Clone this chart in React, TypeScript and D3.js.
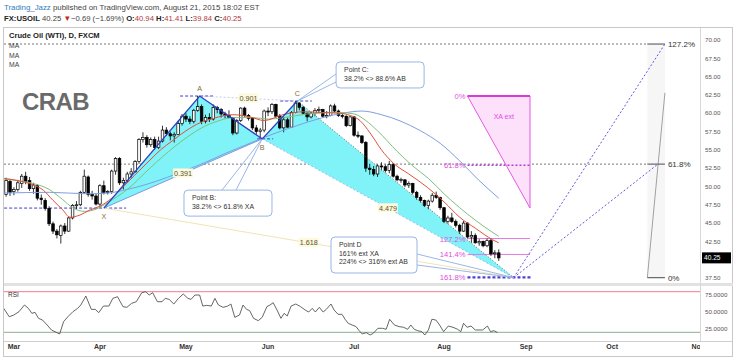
import React from "react";
import * as d3 from "d3";

// ---------- DATA ----------
const firstBar = -1; // Feb 26, 2015; bar 0 = Feb 27, bar 1 = Mar 2 ... bar 125 = Aug 21
const opens = [48.9,50.7,49.3,49.6,50.4,51.4,50.8,49.7,50.1,48.4,48.1,47.0,44.9,43.9,43.3,44.6,43.9,45.7,47.4,47.5,49.2,51.3,48.9,48.7,47.6,50.1,49.2,49.3,52.1,53.8,50.5,50.8,51.7,52.0,53.4,56.4,56.7,55.7,56.4,55.3,56.2,57.7,57.2,56.9,57.1,58.6,59.6,59.2,58.9,60.4,60.9,58.9,59.4,59.2,60.8,60.5,59.9,59.7,59.4,57.3,59.0,60.7,59.7,59.3,58.0,57.5,57.7,60.3,60.2,61.2,59.6,58.0,59.1,58.1,60.1,61.4,60.8,60.0,59.5,60.0,60.4,60.5,59.6,59.7,61.0,60.3,59.7,59.6,58.3,59.5,57.0,56.9,56.0,52.5,52.3,51.7,52.8,52.7,52.2,53.0,51.4,50.9,50.9,50.2,50.4,49.2,48.5,48.1,47.4,48.0,48.8,48.5,47.1,45.2,45.7,45.2,44.7,43.9,45.0,43.1,43.3,42.3,42.5,41.9,42.6,40.8,40.94];
const highs = [51.2,51.0,49.9,50.9,51.7,52.0,51.3,50.5,50.3,48.9,48.4,47.3,45.2,44.2,44.8,45.0,45.9,47.6,48.0,49.4,52.3,51.5,49.4,49.0,50.3,50.8,49.5,52.3,54.0,54.0,51.2,52.0,52.5,53.6,56.6,57.4,57.0,56.7,56.8,56.8,58.3,58.1,57.5,57.4,59.0,59.9,60.0,59.6,60.6,62.35,61.2,59.8,60.0,61.2,61.0,60.7,60.2,60.4,59.5,59.2,60.8,60.9,59.9,59.4,58.4,58.0,60.5,60.8,61.4,61.3,59.9,59.5,59.4,60.3,61.67,61.5,61.0,60.1,60.2,60.7,60.9,60.6,60.3,61.2,61.3,60.5,60.0,59.7,59.6,59.6,57.5,57.0,56.2,53.1,52.8,53.0,53.3,53.0,53.5,53.2,51.6,51.2,51.0,50.7,50.5,49.4,48.8,48.2,48.2,49.1,49.3,48.6,47.2,46.0,46.4,45.5,44.9,45.3,45.1,43.9,43.6,42.8,42.6,42.9,42.9,41.3,41.41];
const lows = [48.6,48.7,48.8,49.3,49.8,50.3,49.4,49.0,48.1,47.5,46.7,44.6,43.5,42.9,42.2,43.5,43.8,45.5,46.9,47.3,49.0,48.6,48.2,47.4,47.05,48.9,48.9,49.0,51.6,50.2,49.6,50.5,51.2,51.9,53.1,56.0,55.3,55.4,55.0,55.1,56.0,56.9,56.3,56.0,57.0,58.3,58.8,58.5,58.6,60.2,58.5,58.6,58.8,59.0,60.0,59.4,59.3,59.3,57.0,57.1,58.8,59.5,59.0,57.7,57.1,56.5,57.4,59.6,59.9,59.4,57.8,57.4,58.0,58.0,60.0,60.4,59.8,58.9,59.3,59.6,60.0,59.4,59.3,59.6,60.0,59.5,59.3,58.1,58.2,56.8,56.6,55.8,52.0,51.6,51.4,51.3,52.2,51.9,51.8,51.2,50.7,50.5,49.9,49.8,48.9,48.2,47.8,47.2,46.9,47.8,48.3,46.8,45.0,44.9,45.0,44.4,43.5,43.8,42.9,42.3,42.2,41.9,41.7,41.7,40.5,40.2,39.84];
const closes = [50.8,49.2,49.6,50.5,51.4,50.7,49.7,50.2,48.4,48.2,47.0,44.9,43.9,43.4,44.6,43.9,45.7,47.4,47.5,49.2,51.4,48.9,48.7,47.6,50.1,49.2,49.3,52.1,53.8,50.5,50.8,51.7,52.0,53.4,56.4,56.7,55.7,56.4,55.3,56.2,57.7,57.2,56.9,57.1,58.6,59.6,59.2,58.9,60.4,60.9,58.9,59.4,59.2,60.8,60.5,59.9,59.7,59.4,57.3,59.0,60.7,59.7,59.3,58.0,57.5,57.7,60.3,60.2,61.2,59.6,58.0,59.1,58.1,60.1,61.4,60.8,60.0,59.5,60.0,60.4,60.5,59.6,59.7,61.0,60.3,59.7,59.6,58.3,59.5,57.0,56.9,56.0,52.5,52.3,51.7,52.8,52.7,52.2,53.0,51.4,50.9,50.95,50.2,50.4,49.2,48.5,48.1,47.4,48.0,48.8,48.5,47.1,45.2,45.7,45.2,44.7,43.9,45.0,43.1,43.3,42.3,42.5,41.9,42.6,40.8,40.94,40.25];

const monthLabels = ["Mar", "Apr", "May", "Jun", "Jul", "Aug", "Sep", "Oct", "Nov"];
const monthBars = [1, 23, 45, 66, 88, 111, 132, 154, 176];
const priceTicks = [37.5, 40, 42.5, 45, 47.5, 50, 52.5, 55, 57.5, 60, 62.5, 65, 67.5, 70];
const rsiTicks = [25, 50, 75];
const lastPrice = 40.25;

// moving averages: [bar, price]
const maFast: [number, number][] = [[-1.5,51.1],[2,50.8],[6,50.2],[8.5,49.5],[11,48.1],[13.5,46.8],[15.3,45.8],[17.9,46.1],[20.5,46.8],[23,47.3],[26,48.4],[28.9,49.9],[32,51.6],[35.8,53.6],[38.5,55.0],[41.7,56.3],[45,57.6],[48.6,58.7],[52,59.3],[57,59.8],[61.4,59.5],[65,59.0],[69.8,59.8],[75,60.2],[80,60.1],[84.4,60.0],[87,59.7],[89.5,59.0],[92.1,57.3],[95,55.0],[98,53.2],[102,51.7],[106.7,49.9],[111,47.9],[115,45.8],[119,44.3],[123.5,42.7],[125,42.3]];
const maMid: [number, number][] = [[-1.5,51.0],[2,50.8],[6,50.4],[10,49.6],[13.5,48.2],[16,47.1],[19,46.6],[22,46.9],[25,47.8],[30,49.6],[36,52.6],[42,55.4],[46,57.0],[49,58.0],[53,58.9],[57,59.4],[62,59.4],[66,59.2],[70,59.4],[76,59.9],[84,60.1],[88,59.9],[91,59.0],[94,57.6],[99,54.8],[103,52.8],[107,51.1],[111,49.0],[115,47.1],[119,45.4],[123.5,43.7],[125,43.2]];
const maSlow: [number, number][] = [[-1.5,49.1],[10,49.2],[20,49.0],[25,49.1],[30,49.6],[35,50.3],[40,51.2],[45,52.2],[50,53.3],[55,54.5],[60,55.6],[65,56.7],[70,57.7],[75,58.6],[80,59.4],[85,60.0],[90,60.3],[95,59.8],[100,58.9],[105,57.6],[110,55.9],[115,53.5],[120,50.8],[125,48.4]];

// RSI
const rsiBars = [-1.6,-0.2,1.0,2.3,3.7,4.7,5.6,6.4,7.3,8.3,9.5,10.6,11.8,12.7,13.7,14.8,16.1,17.3,18.1,19.4,20.8,21.8,22.7,23.9,25.3,26.3,27.5,28.9,29.9,31.1,32.3,33.7,34.7,35.6,36.5,37.7,38.9,39.7,40.7,41.9,43.1,44.3,45.5,46.3,47.3,48.5,49.3,50.3,51.5,52.4,53.3,54.5,55.7,56.5,57.5,58.7,59.6,60.5,61.3,62.3,63.5,64.5,65.7,66.5,67.3,68.3,69.3,70.1,70.9,71.9,73.1,74.3,75.5,76.4,77.3,78.1,79.1,80.1,80.9,82.1,82.9,83.9,84.9,85.7,86.5,87.5,88.5,89.3,90.1,91.1,92.1,92.9,94.1,95.3,96.2,97.1,98.3,99.5,100.7,101.7,102.5,103.4,104.3,105.3,106.1,107.0,107.9,108.9,109.7,110.9,112.1,113.3,114.5,115.3,116.0,116.9,117.9,119.0,120.2,120.9,122.1,122.9,123.8,124.7];
const rsiValues = [55.4,43,45.6,50.5,60.3,55.4,48,49.5,40.6,38.2,30.8,23.4,20,17.5,35.7,43,50.5,55.4,60.3,73.6,53.9,53.9,49,58.8,58.8,70.2,72.6,57.9,56.9,62.8,65.2,78.5,80,75.1,78.5,65.2,65.2,70.2,68.7,61.8,70.2,76.6,70.2,68.7,75.1,75.1,58.8,59.8,58.8,70.2,60.3,56.9,58.8,61.8,42.1,45.6,60.3,53.9,52,40.6,37.2,42.1,57.9,60.3,63.8,52.9,40.6,48,44.1,58.8,61.8,57.9,52.9,50,55.4,50,56.9,50,53.9,61.8,52.9,46.6,46.6,39.2,33.3,30.8,28.4,22.4,17.5,19.5,16,18.5,25.9,25.9,24.4,39.2,30.8,28.4,27.4,24.4,30.8,24.4,22.4,21,16,23.4,39.2,38.2,32.3,21,29.3,27.4,24.4,21,33.3,27.4,29.3,23.4,23.4,23.4,29.3,21,22.4,19.5];

// harmonic (Crab) pattern points
const patternNames = ["X", "A", "B", "C", "D"];
const patternBars = [24, 48.5, 64.5, 73.5, 128.8];
const patternPrices = [47.05, 62.35, 56.5, 61.67, 37.55];
const ratioTexts = ["0.391", "0.901", "4.479", "1.618"];

// XA extension tool
const xaLevels = [0, 0.618, 1.272, 1.414, 1.618];
const xaLevelTexts = ["0%", "61.8%", "127.2%", "141.4%", "161.8%"];
const xaToolBars = [117, 133];

// right-hand fib extension
const fibPrices = [37.55, 53.05, 69.45];
const fibTexts = ["0%", "61.8%", "127.2%"];
const fibBars = [163, 167.5];
const fibTopPrice = 62.8;

// callouts
const calloutLines = [["Point C:", "38.2% <> 88.6% AB"], ["Point B:", "38.2% <> 61.8% XA"], ["Point D", "161% ext XA", "224% <> 316% ext AB"]];
const calloutBars = [83.4, 44.5, 82.1];
const calloutTopPrices = [67.0, 49.5, 43.1];

const W = 736;
const H = 360;
const FONT = "'Liberation Sans', Arial, sans-serif";

export default function App() {
  const x = d3.scaleLinear().domain([0, 125]).range([10, 498.75]);
  const y = d3.scaleLinear().domain([37.5, 70]).range([278, 40]);
  const ry = d3.scaleLinear().domain([20, 80]).range([332.3, 291.7]);

  const plotL = 4, plotR = 700, mainT = 28, mainB = 283, rsiT = 287, rsiB = 341;

  const maPath = d3.line<[number, number]>().x(d => x(d[0])).y(d => y(d[1])).curve(d3.curveMonotoneX);
  const rsiPath = d3.line<number>().x((_, i) => x(rsiBars[i])).y(d => ry(d))(rsiValues) || "";

  const P = patternBars.map((b, k) => [x(b), y(patternPrices[k])] as [number, number]);
  const [pX, pA, pB, pC, pD] = P;
  const mid = (a: number[], b: number[]) => [(a[0] + b[0]) / 2, (a[1] + b[1]) / 2];
  const ratioPos = [mid(pX, pB), mid(pA, pC), mid(pB, pD), mid(pX, pD)];

  const A = patternPrices[1], X0 = patternPrices[0];
  const xaPrice = (l: number) => A - l * (A - X0);
  const tx0 = x(xaToolBars[0]), tx1 = x(xaToolBars[1]);
  const fx0 = x(fibBars[0]), fx1 = x(fibBars[1]);

  const cw = 2.6;

  return (
    <svg width={W} height={H} style={{ position: "absolute", left: 0, top: 0, background: "#fff" }} fontFamily={FONT}>
      <defs>
        <clipPath id="mainClip"><rect x={plotL} y={mainT} width={plotR - plotL} height={mainB - mainT} /></clipPath>
        <clipPath id="rsiClip"><rect x={plotL} y={rsiT} width={plotR - plotL} height={rsiB - rsiT} /></clipPath>
        <clipPath id="axClip"><rect x={plotL} y={rsiB} width={plotR - plotL} height={16} /></clipPath>
      </defs>
      <rect x={0} y={0} width={W} height={H} fill="#fff" />
      {/* header */}
      <text x={4} y={10} fontSize={7.85} fill="#444">
        <tspan fill="#2f7cc0">Trading_Jazz</tspan> published on TradingView.com, August 21, 2015 18:02 EST
      </text>
      <text x={4} y={21} fontSize={7.7} fill="#444">
        <tspan fontWeight="bold" fill="#222">FX:USOIL</tspan> 40.25 <tspan fill="#c0281e">▼</tspan>−0.69 (−1.69%) <tspan fontWeight="bold" fill="#222">O:</tspan><tspan fill="#b03a3a">40.94</tspan> <tspan fontWeight="bold" fill="#222">H:</tspan><tspan fill="#b03a3a">41.41</tspan> <tspan fontWeight="bold" fill="#222">L:</tspan><tspan fill="#b03a3a">39.84</tspan> <tspan fontWeight="bold" fill="#222">C:</tspan><tspan fill="#b03a3a">40.25</tspan>
      </text>
      {/* panel frame */}
      <rect x={3.5} y={27.5} width={729} height={329} fill="none" stroke="#c8c8c8" />
      <rect x={plotL} y={mainB} width={729} height={3} fill="#e2e2e2" />
      <line x1={plotL} x2={732} y1={rsiB + 0.5} y2={rsiB + 0.5} stroke="#cfcfcf" />
      <line x1={plotR + 0.5} x2={plotR + 0.5} y1={mainT} y2={rsiB} stroke="#d8d8d8" />

      <g clipPath="url(#mainClip)">
        {/* full width dashed fib levels */}
        {fibPrices.slice(1).map((p, k) => (
          <line key={"fd" + k} x1={plotL} x2={fx0} y1={y(p)} y2={y(p)} stroke="#555" strokeWidth={0.8} strokeDasharray="2,2" />
        ))}
        {/* right fib band */}
        <rect x={fx0} y={y(fibPrices[2])} width={fx1 - fx0} height={y(fibPrices[0]) - y(fibPrices[2])} fill="#f6f6f6" />
        <line x1={fx0} y1={y(fibPrices[0])} x2={fx1} y2={y(fibTopPrice)} stroke="#a0a0a0" strokeWidth={1} />
        {fibPrices.map((p, k) => (
          <g key={"fl" + k}>
            <line x1={fx0} x2={fx1} y1={y(p)} y2={y(p)} stroke="#666" strokeWidth={1.2} />
            <text x={fx1 + 3} y={y(p) + 3} fontSize={8} fill="#333">{fibTexts[k]}</text>
          </g>
        ))}

        {/* pattern fills */}
        <path d={`M${pX}L${pA}L${pB}Z`} fill="#7ff3f7" />
        <path d={`M${pB}L${pC}L${pD}Z`} fill="#7ff3f7" />

        {/* XA ext tool */}
        <path d={`M${tx0},${y(xaPrice(0))}L${tx1},${y(xaPrice(0))}L${tx1},${y(X0)}Z`} fill="#fde0fa" stroke="#e35ae3" strokeWidth={1} />
        <text x={(tx0 + tx1) / 2 + 5} y={y(xaPrice(0)) + 23} fontSize={7} fill="#e24fe0" textAnchor="middle">XA ext</text>
        {xaLevels.map((l, k) => {
          const yy = y(xaPrice(l));
          const style = k === 0 ? { stroke: "#d93bd9", w: 2, dash: "" }
            : k === 1 ? { stroke: "#b13fd6", w: 1.6, dash: "2,2" }
            : k === 4 ? { stroke: "#4f3fd6", w: 2.2, dash: "3,2" }
            : { stroke: "#e47ae4", w: 1, dash: "" };
          return (
            <g key={"xa" + k}>
              <line x1={tx0} x2={k === 4 ? tx1 + 2 : tx1} y1={yy} y2={yy} stroke={style.stroke} strokeWidth={style.w} strokeDasharray={style.dash} />
              <text x={tx0 - 2} y={yy + 3} fontSize={7.6} fill="#e04ce0" textAnchor="end">{xaLevelTexts[k]}</text>
            </g>
          );
        })}

        {/* pattern point markers */}
        <line x1={x(-1.5)} x2={x(29.7)} y1={pX[1]} y2={pX[1]} stroke="#3b3fd0" strokeDasharray="3,2" />
        <line x1={x(43.5)} x2={x(52)} y1={pA[1]} y2={pA[1]} stroke="#3b3fd0" strokeDasharray="3,2" />
        <line x1={x(63.2)} x2={x(67.3)} y1={pB[1]} y2={pB[1]} stroke="#3b3fd0" strokeDasharray="3,2" />
        <line x1={x(69.1)} x2={x(77.2)} y1={pC[1]} y2={pC[1]} stroke="#3b3fd0" strokeDasharray="3,2" />

        {/* ratio lines */}
        <line x1={pX[0]} y1={pX[1]} x2={pB[0]} y2={pB[1]} stroke="#6f8fdc" strokeWidth={0.9} />
        <line x1={pA[0]} y1={pA[1]} x2={pC[0]} y2={pC[1]} stroke="#b8c2e6" strokeWidth={0.8} strokeDasharray="2,2" />
        <line x1={pB[0]} y1={pB[1]} x2={pD[0]} y2={pD[1]} stroke="#8fb0e6" strokeWidth={0.8} strokeDasharray="2,2" />
        <line x1={pX[0]} y1={pX[1]} x2={pD[0]} y2={pD[1]} stroke="#efe4b4" strokeWidth={1} />

        {/* candles */}
        {opens.map((o, k) => {
          const bar = firstBar + k;
          const c = closes[k];
          const cx = x(bar);
          const top = y(Math.max(o, c));
          const h = Math.max(1, Math.abs(y(o) - y(c)));
          return (
            <g key={"c" + k}>
              <line x1={cx} x2={cx} y1={y(highs[k])} y2={y(lows[k])} stroke="#000" strokeWidth={0.8} />
              <rect x={cx - cw / 2} y={top} width={cw} height={h} fill={c >= o ? "#fff" : "#000"} stroke="#000" strokeWidth={0.7} />
            </g>
          );
        })}

        {/* moving averages */}
        <path d={maPath(maSlow) || ""} fill="none" stroke="#7f9ee0" strokeWidth={1} />
        <path d={maPath(maMid) || ""} fill="none" stroke="#7fbf7f" strokeWidth={1} />
        <path d={maPath(maFast) || ""} fill="none" stroke="#e0503c" strokeWidth={1} />

        {/* pattern legs */}
        <path d={`M${pX}L${pA}L${pB}L${pC}`} fill="none" stroke="#2f3fbf" strokeWidth={1.3} />
        <line x1={pC[0]} y1={pC[1]} x2={pD[0]} y2={pD[1]} stroke="#666" strokeWidth={1} strokeDasharray="1,2" />

        {/* dotted projections from D */}
        <line x1={pD[0]} y1={pD[1]} x2={fx1} y2={y(fibPrices[2])} stroke="#6655dd" strokeWidth={1} strokeDasharray="2,2" />
        <line x1={pD[0]} y1={pD[1]} x2={x(165.7)} y2={y(fibPrices[1])} stroke="#6655dd" strokeWidth={1} strokeDasharray="2,2" />

        {/* ratio labels */}
        {ratioPos.map((p, k) => (
          <g key={"r" + k}>
            <rect x={p[0] - 10} y={p[1] - 5} width={20} height={9} fill="#fcf9dc" />
            <text x={p[0]} y={p[1] + 2.5} fontSize={7.2} fill="#5a5030" textAnchor="middle">{ratioTexts[k]}</text>
          </g>
        ))}
        {/* point labels */}
        {patternNames.slice(0, 4).map((n, k) => (
          <text key={"pn" + k} x={P[k][0]} y={k === 0 || k === 2 ? P[k][1] + 11 : P[k][1] - 5} fontSize={7.2} fill="#8a7030" textAnchor="middle">{n}</text>
        ))}

        {/* callouts */}
        {calloutLines.map((lines, k) => {
          const bx = x(calloutBars[k]);
          const by = y(calloutTopPrices[k]);
          const bw = k === 2 ? 86 : 88;
          const bh = k === 2 ? 36 : 26;
          const target = k === 0 ? pC : k === 1 ? pB : pD;
          const tails = k === 0 ? [[bx, by + 12], [bx, by + 20]] : k === 1 ? [[bx + 38, by], [bx + 52, by]] : [[bx + bw, by + 17], [bx + bw, by + 28]];
          return (
            <g key={"co" + k}>
              {tails.map((t, j) => (
                <line key={j} x1={t[0]} y1={t[1]} x2={target[0]} y2={target[1]} stroke="#8eaee4" strokeWidth={0.9} />
              ))}
              <rect x={bx} y={by} width={bw} height={bh} rx={4} fill="#fff" stroke="#9ab5e5" strokeWidth={1} />
              {lines.map((t, j) => (
                <text key={j} x={bx + 8} y={by + 10 + j * 8.6} fontSize={6.9} fill="#333">{t}</text>
              ))}
            </g>
          );
        })}
      </g>

      {/* title / legend */}
      <text x={9} y={38} fontSize={7.6} fontWeight="bold" fill="#222">Crude Oil (WTI), D, FXCM</text>
      {["MA", "MA", "MA"].map((t, k) => (
        <text key={"ma" + k} x={9} y={48 + k * 9.5} fontSize={6.8} fill="#444">{t}</text>
      ))}
      <text x={22} y={110} fontSize={24} fontWeight="bold" fill="#6a6a6a" letterSpacing={-0.6}>CRAB</text>

      {/* price axis */}
      {priceTicks.map(p => (
        <text key={"pt" + p} x={705} y={y(p) + 2.2} fontSize={6.2} fill="#555">{p.toFixed(2)}</text>
      ))}
      <rect x={702} y={y(lastPrice) - 5.5} width={29} height={11} fill="#000" />
      <text x={704} y={y(lastPrice) + 2.5} fontSize={6.6} fill="#fff">{lastPrice.toFixed(2)}</text>

      {/* RSI pane */}
      <g clipPath="url(#rsiClip)">
        <line x1={plotL} x2={plotR} y1={ry(80)} y2={ry(80)} stroke="#f07a90" strokeWidth={1} />
        <line x1={plotL} x2={plotR} y1={ry(20)} y2={ry(20)} stroke="#8ab08a" strokeWidth={1} />
        <path d={rsiPath} fill="none" stroke="#555" strokeWidth={0.9} />
      </g>
      <text x={8} y={297} fontSize={6.5} fill="#333">RSI</text>
      {rsiTicks.map(v => (
        <text key={"rt" + v} x={705} y={ry(v) + 2.2} fontSize={6.2} fill="#555">{v.toFixed(4)}</text>
      ))}

      {/* time axis */}
      <g clipPath="url(#axClip)">
        {monthLabels.map((m, k) => (
          <text key={m} x={x(monthBars[k])} y={349} fontSize={7} fontWeight="bold" fill="#333" textAnchor="middle">{m}</text>
        ))}
      </g>
    </svg>
  );
}
